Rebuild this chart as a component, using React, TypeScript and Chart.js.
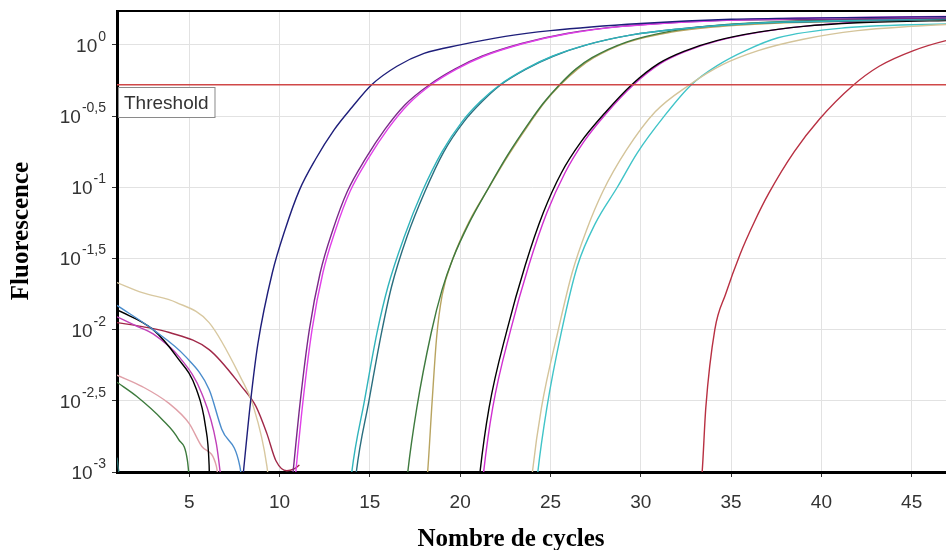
import { useEffect, useRef } from "react";
import { Chart, registerables } from "chart.js";

Chart.register(...registerables);

// ---- axes / labels ----
const xMin = 1;
const xMax = 46.9;
const yMin = 0.001;
const yMax = 1.73;
const xTicks = [5, 10, 15, 20, 25, 30, 35, 40, 45];
const yTickValues = [0.001, 0.0031623, 0.01, 0.031623, 0.1, 0.31623, 1];
const yTickBase = "10";
const yTickExponents = ["-3", "-2,5", "-2", "-1,5", "-1", "-0,5", "0"];
const thresholdValue = 0.525;
const thresholdLabel = "Threshold";
const xTitle = "Nombre de cycles";
const yTitle = "Fluorescence";

// ---- amplification curves (cycle, fluorescence) ----
const navyCycles = [7.85, 8.0, 8.4, 8.8, 9.6, 10.3, 11.1, 12.0, 13.0, 14.0, 15.1, 16.5, 18.0, 20.0, 22.5, 25.0, 30.0, 35.0, 40.0, 48.0];
const navyValues = [0.00063, 0.001, 0.00316, 0.00794, 0.0251, 0.0501, 0.0955, 0.158, 0.251, 0.363, 0.525, 0.708, 0.871, 1.0, 1.148, 1.259, 1.413, 1.514, 1.549, 1.585];

const magentaACycles = [10.75, 10.9, 11.3, 11.8, 12.4, 13.1, 13.9, 14.9, 16.0, 17.1, 18.4, 19.8, 21.3, 23.5, 26.0, 29.0, 34.0, 40.0, 48.0];
const magentaAValues = [0.00063, 0.001, 0.00316, 0.01, 0.0251, 0.0501, 0.0933, 0.158, 0.257, 0.38, 0.525, 0.676, 0.832, 1.023, 1.202, 1.349, 1.479, 1.549, 1.585];
const purpleACycles = [10.6, 10.75, 11.15, 11.65, 12.25, 12.95, 13.75, 14.75, 15.85, 16.95, 18.3, 19.7, 21.2, 23.4, 25.9, 28.9, 34.0, 40.0, 48.0];
const purpleAValues = [0.00063, 0.001, 0.00316, 0.01, 0.0251, 0.0501, 0.0933, 0.158, 0.257, 0.38, 0.525, 0.676, 0.832, 1.023, 1.202, 1.349, 1.479, 1.514, 1.549];

const tealACycles = [13.85, 14.0, 14.7, 15.4, 16.0, 16.9, 17.9, 19.0, 20.1, 21.1, 22.2, 23.6, 25.1, 27.0, 29.5, 32.0, 36.0, 41.0, 48.0];
const tealAValues = [0.00063, 0.001, 0.00316, 0.00955, 0.02, 0.0447, 0.0933, 0.178, 0.288, 0.398, 0.525, 0.676, 0.832, 1.0, 1.175, 1.288, 1.413, 1.479, 1.549];
const tealBCycles = [14.1, 14.25, 14.95, 15.65, 16.2, 17.05, 18.05, 19.1, 20.2, 21.2, 22.25, 23.65, 25.15, 27.0, 29.5, 32.0, 36.0, 41.0, 48.0];
const tealBValues = [0.00063, 0.001, 0.00316, 0.00955, 0.02, 0.0447, 0.0933, 0.178, 0.288, 0.398, 0.525, 0.676, 0.832, 1.0, 1.175, 1.288, 1.413, 1.462, 1.514];

const greenACycles = [16.95, 17.1, 17.6, 18.4, 19.0, 19.6, 20.5, 21.5, 22.6, 23.8, 24.6, 25.5, 26.4, 27.3, 29.2, 31.6, 34.0, 38.0, 48.0];
const greenAValues = [0.00063, 0.001, 0.00282, 0.00955, 0.0191, 0.0316, 0.0562, 0.0955, 0.166, 0.282, 0.389, 0.525, 0.676, 0.813, 1.047, 1.245, 1.365, 1.462, 1.549];
const oliveBCycles = [18.05, 18.2, 18.45, 18.7, 19.0, 19.6, 20.5, 21.6, 22.7, 23.9, 24.7, 25.55, 26.5, 27.4, 29.3, 31.7, 34.0, 38.0, 48.0];
const oliveBValues = [0.00063, 0.001, 0.00316, 0.00891, 0.0174, 0.0316, 0.0575, 0.1, 0.17, 0.288, 0.398, 0.525, 0.676, 0.813, 1.047, 1.23, 1.334, 1.429, 1.514];

const blackACycles = [20.95, 21.1, 21.6, 22.6, 23.6, 24.6, 25.6, 26.7, 28.0, 29.5, 31.0, 32.5, 34.2, 36.5, 39.0, 42.0, 48.0];
const blackAValues = [0.00063, 0.001, 0.00282, 0.01, 0.0282, 0.0661, 0.126, 0.209, 0.331, 0.525, 0.741, 0.912, 1.072, 1.23, 1.349, 1.429, 1.496];
const magentaBCycles = [21.15, 21.3, 21.8, 22.8, 23.8, 24.8, 25.8, 26.85, 28.1, 29.6, 31.1, 32.6, 34.3, 36.6, 39.0, 42.0, 48.0];
const magentaBValues = [0.00063, 0.001, 0.00282, 0.01, 0.0282, 0.0661, 0.126, 0.209, 0.331, 0.525, 0.741, 0.912, 1.072, 1.23, 1.349, 1.445, 1.514];

const tanACycles = [23.85, 24.0, 24.5, 25.4, 26.2, 27.0, 27.9, 29.2, 30.8, 32.7, 34.5, 36.5, 39.0, 42.0, 45.0, 48.0];
const tanAValues = [0.00063, 0.001, 0.00282, 0.00955, 0.0251, 0.0501, 0.0933, 0.182, 0.339, 0.525, 0.724, 0.912, 1.096, 1.259, 1.349, 1.413];
const cyanBCycles = [24.15, 24.3, 24.8, 25.6, 26.5, 27.5, 28.7, 29.8, 31.3, 32.8, 34.3, 35.8, 37.6, 41.3, 48.0];
const cyanBValues = [0.00063, 0.001, 0.00282, 0.00955, 0.0282, 0.0562, 0.1, 0.174, 0.316, 0.525, 0.724, 0.912, 1.122, 1.318, 1.413];

const redCycles = [33.25, 33.4, 33.6, 34.1, 34.7, 35.5, 36.3, 37.1, 38.5, 39.9, 41.7, 43.2, 45.1, 46.9, 48.5];
const redValues = [0.00063, 0.001, 0.00282, 0.01, 0.0178, 0.0339, 0.0575, 0.0912, 0.178, 0.302, 0.513, 0.708, 0.912, 1.072, 1.175];

// ---- baseline (early cycle) curves ----
const tanBaseCycles = [1, 2.4, 4.3, 6.1, 7.9, 8.5, 9.3, 9.5];
const tanBaseValues = [0.0214, 0.0182, 0.0155, 0.0112, 0.00447, 0.00302, 0.0011, 0.00063];
const steelBaseCycles = [1, 3.0, 4.8, 6.1, 6.8, 7.8, 8.05];
const steelBaseValues = [0.0148, 0.01, 0.00646, 0.0038, 0.002, 0.0011, 0.00063];
const blackBaseCycles = [1, 3.0, 4.3, 5.4, 5.9, 6.1, 6.15];
const blackBaseValues = [0.0138, 0.01, 0.00646, 0.0038, 0.00209, 0.00112, 0.00063];
const magentaBaseCycles = [1, 2.0, 3.0, 4.5, 5.7, 6.5, 6.9];
const magentaBaseValues = [0.0123, 0.0107, 0.00933, 0.00631, 0.00355, 0.00158, 0.00063];
const darkRedBaseCycles = [1, 2.4, 3.9, 6.1, 7.9, 8.7, 9.3, 9.8, 10.4, 10.8, 11.1];
const darkRedBaseValues = [0.0112, 0.0105, 0.00955, 0.00724, 0.00398, 0.00288, 0.00186, 0.0012, 0.00102, 0.00105, 0.00112];
const pinkBaseCycles = [1, 2.4, 3.9, 5.0, 5.7, 6.5, 6.75];
const pinkBaseValues = [0.00479, 0.00398, 0.00302, 0.00219, 0.00151, 0.0011, 0.00063];
const greenBaseCycles = [1, 2.1, 3.5, 4.4, 4.9, 5.1];
const greenBaseValues = [0.00427, 0.00339, 0.00234, 0.0017, 0.0012, 0.00063];
const tealBaseCycles = [1, 1.3];
const tealBaseValues = [0.00126, 0.00063];

const curves = [
  { cycles: navyCycles, values: navyValues, color: "#1e1e7a" },
  { cycles: magentaACycles, values: magentaAValues, color: "#e040e8" },
  { cycles: purpleACycles, values: purpleAValues, color: "#7a2a88" },
  { cycles: tealACycles, values: tealAValues, color: "#30b4bc" },
  { cycles: tealBCycles, values: tealBValues, color: "#2a6e7e" },
  { cycles: greenACycles, values: greenAValues, color: "#3e7a3e" },
  { cycles: oliveBCycles, values: oliveBValues, color: "#b8a460" },
  { cycles: blackACycles, values: blackAValues, color: "#000000" },
  { cycles: magentaBCycles, values: magentaBValues, color: "#d030d0" },
  { cycles: tanACycles, values: tanAValues, color: "#d4c49a" },
  { cycles: cyanBCycles, values: cyanBValues, color: "#40c4c8" },
  { cycles: redCycles, values: redValues, color: "#b83042" },
  { cycles: tanBaseCycles, values: tanBaseValues, color: "#d8c8a0" },
  { cycles: steelBaseCycles, values: steelBaseValues, color: "#4a8ccc" },
  { cycles: blackBaseCycles, values: blackBaseValues, color: "#000000" },
  { cycles: magentaBaseCycles, values: magentaBaseValues, color: "#c040b8" },
  { cycles: darkRedBaseCycles, values: darkRedBaseValues, color: "#a02848" },
  { cycles: pinkBaseCycles, values: pinkBaseValues, color: "#e0a0a8" },
  { cycles: greenBaseCycles, values: greenBaseValues, color: "#3c7a3c" },
  { cycles: tealBaseCycles, values: tealBaseValues, color: "#2a6a6a" },
];

const SANS = '"Liberation Sans", Arial, sans-serif';
const SERIF = '"Liberation Serif", "Times New Roman", serif';

const decorPlugin = {
  id: "decor",
  afterDatasetsDraw(chart: any) {
    const { ctx, chartArea: a, scales } = chart;
    const x = scales.x;
    const y = scales.y;
    ctx.save();
    // top frame line
    ctx.strokeStyle = "#000";
    ctx.lineWidth = 2;
    ctx.beginPath();
    ctx.moveTo(a.left, a.top);
    ctx.lineTo(a.right, a.top);
    ctx.stroke();

    // threshold label box
    const ty = y.getPixelForValue(thresholdValue);
    ctx.font = `19px ${SANS}`;
    const bw = ctx.measureText(thresholdLabel).width + 12;
    const bx = a.left + 1;
    const by = Math.round(ty) + 2;
    const bh = 30;
    ctx.fillStyle = "#fff";
    ctx.fillRect(bx, by, bw, bh);
    ctx.strokeStyle = "#8a8a8a";
    ctx.lineWidth = 1;
    ctx.strokeRect(bx + 0.5, by + 0.5, bw, bh);
    ctx.fillStyle = "#333";
    ctx.textAlign = "left";
    ctx.textBaseline = "alphabetic";
    ctx.fillText(thresholdLabel, bx + 6, by + 22);

    // y tick labels 10^e
    yTickValues.forEach((v, i) => {
      const py = y.getPixelForValue(v);
      const exp = yTickExponents[i];
      ctx.font = `14px ${SANS}`;
      const ew = ctx.measureText(exp).width;
      const ex = a.left - 11 - ew;
      ctx.fillStyle = "#333";
      ctx.textAlign = "left";
      ctx.textBaseline = "alphabetic";
      ctx.fillText(exp, ex, py - 4);
      ctx.font = `19px ${SANS}`;
      ctx.textAlign = "right";
      ctx.fillText(yTickBase, ex - 1, py + 7);
    });

    // x tick labels
    ctx.font = `19px ${SANS}`;
    ctx.textAlign = "center";
    ctx.textBaseline = "alphabetic";
    xTicks.forEach((v) => {
      ctx.fillText(String(v), x.getPixelForValue(v), a.bottom + 36);
    });

    // axis titles
    ctx.fillStyle = "#000";
    ctx.font = `bold 25px ${SERIF}`;
    ctx.textAlign = "center";
    ctx.textBaseline = "alphabetic";
    ctx.fillText(xTitle, a.left + 394, a.bottom + 74);
    ctx.translate(a.left - 95, a.top + 220);
    ctx.rotate(-Math.PI / 2);
    ctx.textBaseline = "middle";
    ctx.fillText(yTitle, 0, 0);
    ctx.restore();
  },
};

export default function App() {
  const ref = useRef<HTMLCanvasElement>(null);
  useEffect(() => {
    document.body.style.margin = "0";
    const canvas = ref.current;
    if (!canvas) return;
    const datasets: any[] = [
      {
        label: thresholdLabel,
        data: [
          { x: xMin, y: thresholdValue },
          { x: xMax, y: thresholdValue },
        ],
        borderColor: "#d04848",
        borderWidth: 1.6,
        pointRadius: 0,
      },
      ...curves.map((c, k) => ({
        label: "c" + k,
        data: c.cycles.map((cx, i) => ({ x: cx, y: c.values[i] })),
        borderColor: c.color,
        borderWidth: 1.4,
        pointRadius: 0,
        cubicInterpolationMode: "monotone",
      })),
    ];
    const chart = new Chart(canvas, {
      type: "line",
      data: { datasets },
      options: {
        animation: false,
        responsive: false,
        layout: { padding: { left: 112, top: 11, right: 0, bottom: 73 } },
        plugins: { legend: { display: false }, tooltip: { enabled: false } },
        scales: {
          x: {
            type: "linear",
            min: xMin,
            max: xMax,
            afterBuildTicks: (s: any) => {
              s.ticks = xTicks.map((v) => ({ value: v }));
            },
            ticks: { display: false },
            grid: { color: "#e2e2e2", tickColor: "#333", tickLength: 5, lineWidth: 1 },
            border: { color: "#000", width: 3 },
          },
          y: {
            type: "logarithmic",
            min: yMin,
            max: yMax,
            afterBuildTicks: (s: any) => {
              s.ticks = yTickValues.map((v) => ({ value: v }));
            },
            ticks: { display: false },
            grid: { color: "#e2e2e2", tickColor: "#333", tickLength: 5, lineWidth: 1 },
            border: { color: "#000", width: 3 },
          },
        },
      } as any,
      plugins: [decorPlugin],
    });
    return () => chart.destroy();
  }, []);
  return <canvas ref={ref} width={946} height={550} style={{ display: "block" }} />;
}
